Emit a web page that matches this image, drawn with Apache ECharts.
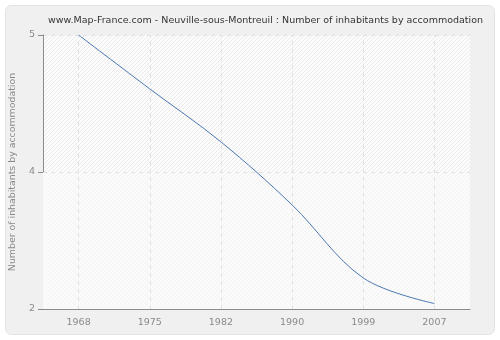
<!DOCTYPE html>
<html>
<head>
<meta charset="utf-8">
<script src="https://cdn.jsdelivr.net/npm/echarts@6/dist/echarts.min.js"></script>
<style>
html,body{margin:0;padding:0;background:#fff;}
#c{width:500px;height:340px;}
</style>
</head>
<body>
<div id="c"></div>
<script>
var titleText = "www.Map-France.com - Neuville-sous-Montreuil : Number of inhabitants by accommodation";
var yAxisName = "Number of inhabitants by accommodation";
var years = ["1968", "1975", "1982", "1990", "1999", "2007"];
var values = [5.0, 4.41, 3.83, 3.14, 2.34, 2.06];
var yTickValues = [2, 3.5, 5];
var yTickLabels = ["2", "4", "5"];

function makePattern(bg, fg) {
  var cv = document.createElement('canvas');
  cv.width = 4; cv.height = 4;
  var ctx = cv.getContext('2d');
  ctx.fillStyle = bg; ctx.fillRect(0, 0, 4, 4);
  ctx.strokeStyle = fg; ctx.lineWidth = 1;
  ctx.beginPath();
  ctx.moveTo(-1, 5); ctx.lineTo(5, -1);
  ctx.stroke();
  return cv;
}
var patTop = makePattern('#fcfcfc', '#ebebeb');
var patBottom = makePattern('#fbfbfb', '#f3f3f3');

var gridStyle = {color: '#e0e0e0', type: [4, 4], width: 1};
var chart = echarts.init(document.getElementById('c'), null, {renderer: 'canvas'});
var fontFam = "DejaVu Sans, Verdana, sans-serif";
chart.setOption({
  animation: false,
  backgroundColor: '#ffffff',
  graphic: [{
    type: 'rect', z: -10, silent: true,
    shape: {x: 5.5, y: 5.5, width: 489, height: 329, r: 6},
    style: {fill: '#f0f0f0', stroke: '#e2e2e2', lineWidth: 1}
  }],
  title: {
    text: titleText, left: 43, top: 11,
    textStyle: {fontFamily: fontFam, fontSize: 9.5, fontWeight: 'normal', color: '#333'}
  },
  grid: {
    left: 40, right: 30, top: 35, bottom: 31, show: true,
    backgroundColor: {image: patTop, repeat: 'repeat'},
    borderWidth: 0
  },
  xAxis: {
    type: 'category', data: years, boundaryGap: true,
    axisLine: {lineStyle: {color: '#8c8c8c', width: 1}},
    axisTick: {alignWithLabel: true, length: 5, lineStyle: {color: '#8c8c8c'}},
    axisLabel: {fontFamily: fontFam, fontSize: 9.5, color: '#8a8a8a', margin: 9},
    splitLine: {show: false}
  },
  yAxis: {
    type: 'value', min: 2, max: 5,
    name: yAxisName, nameLocation: 'middle', nameGap: 26,
    nameTextStyle: {fontFamily: fontFam, fontSize: 9.4, color: '#8a8a8a'},
    axisLine: {show: true, lineStyle: {color: '#8c8c8c', width: 1}},
    axisTick: {show: true, length: 5, lineStyle: {color: '#8c8c8c'}, customValues: yTickValues},
    axisLabel: {
      fontFamily: fontFam, fontSize: 9.5, color: '#8a8a8a', margin: 8,
      customValues: yTickValues,
      formatter: function (v) {
        var i = yTickValues.indexOf(v);
        return i >= 0 ? yTickLabels[i] : '';
      }
    },
    splitLine: {show: true, customValues: yTickValues, lineStyle: gridStyle}
  },
  series: [{
    type: 'line', data: values, smooth: 0.35, symbol: 'none',
    lineStyle: {color: '#4a78b0', width: 1},
    markArea: {
      silent: true, z: 1,
      itemStyle: {color: {image: patBottom, repeat: 'repeat'}},
      data: [[{yAxis: yTickValues[0]}, {yAxis: yTickValues[1]}]]
    },
    markLine: {
      silent: true, symbol: 'none', z: 3,
      label: {show: false},
      lineStyle: gridStyle,
      data: years.map(function (y) { return {xAxis: y}; }).concat([{yAxis: yTickValues[1]}])
    },
    z: 5
  }]
});
</script>
</body>
</html>
